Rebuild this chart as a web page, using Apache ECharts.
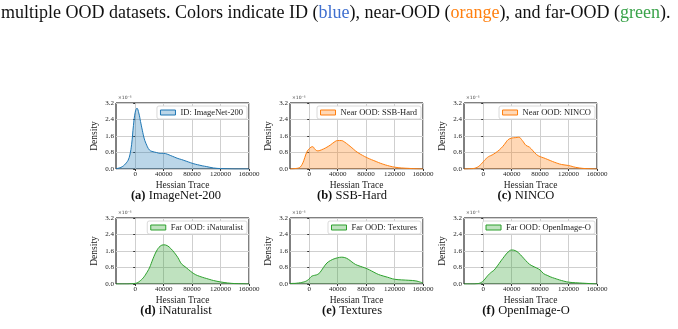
<!DOCTYPE html>
<html>
<head>
  <meta charset="UTF-8">
  <title>Hessian trace density</title>
  <script src="https://cdn.jsdelivr.net/npm/echarts@6/dist/echarts.min.js"></script>
  <style>
    html, body { margin: 0; padding: 0; background: #fff; }
    #chart { width: 678px; height: 329px; }
  </style>
</head>
<body>
<div id="chart"></div>
<script>
  // hessian trace grid (x) shared by every panel
  const traceX = [-27000, -22500, -20000, -17500, -15000, -12500, -10000, -7500, -5000, -2500,
    0, 2500, 5000, 7500, 10000, 12500, 15000, 20000, 25000, 30000, 35000, 40000, 45000, 50000,
    55000, 60000, 65000, 70000, 75000, 80000, 85000, 90000, 95000, 100000,
    110000, 120000, 130000, 140000, 150000, 160000];

  // density values, in units of 1e-5
  const imagenet200 = [0.01, 0.05, 0.08, 0.13, 0.2, 0.3, 0.42, 0.68, 1.2, 2.1,
    2.75, 2.95, 2.72, 2.3, 1.88, 1.5, 1.25, 0.92, 0.84, 0.8, 0.76, 0.76, 0.72, 0.65,
    0.58, 0.51, 0.46, 0.4, 0.34, 0.28, 0.23, 0.19, 0.15, 0.12,
    0.05, 0.02, 0.01, 0, 0, 0];
  const ssbHard = [0, 0.01, 0.02, 0.03, 0.05, 0.1, 0.22, 0.42, 0.68, 0.88,
    0.98, 1.06, 1.08, 0.98, 0.9, 0.88, 0.9, 0.97, 1.06, 1.17, 1.3, 1.38, 1.38, 1.3,
    1.17, 1.03, 0.88, 0.76, 0.66, 0.57, 0.49, 0.42, 0.35, 0.28,
    0.17, 0.09, 0.05, 0.03, 0.01, 0];
  const ninco = [0, 0, 0.01, 0.01, 0.02, 0.03, 0.06, 0.1, 0.17, 0.25,
    0.35, 0.45, 0.53, 0.6, 0.64, 0.68, 0.73, 0.85, 1.0, 1.2, 1.42, 1.5, 1.52, 1.54,
    1.38, 1.15, 1.06, 0.88, 0.7, 0.6, 0.54, 0.47, 0.4, 0.33,
    0.22, 0.17, 0.08, 0.03, 0.01, 0];
  const inaturalist = [0, 0, 0, 0, 0, 0, 0, 0.01, 0.01, 0.02,
    0.03, 0.05, 0.1, 0.17, 0.25, 0.35, 0.48, 0.78, 1.22, 1.6, 1.83, 1.9, 1.86, 1.72,
    1.52, 1.28, 0.98, 0.84, 0.7, 0.56, 0.45, 0.38, 0.32, 0.27,
    0.17, 0.1, 0.05, 0.02, 0.01, 0];
  const textures = [0.02, 0.03, 0.03, 0.04, 0.05, 0.06, 0.08, 0.1, 0.13, 0.18,
    0.25, 0.35, 0.4, 0.42, 0.44, 0.48, 0.55, 0.8, 1.02, 1.14, 1.22, 1.27, 1.3, 1.28,
    1.2, 1.07, 0.95, 0.88, 0.82, 0.76, 0.68, 0.59, 0.5, 0.43,
    0.33, 0.23, 0.2, 0.18, 0.15, 0.05];
  const openimageO = [0, 0, 0, 0, 0, 0, 0.01, 0.02, 0.04, 0.08,
    0.15, 0.24, 0.35, 0.45, 0.53, 0.6, 0.66, 0.88, 1.12, 1.35, 1.55, 1.65, 1.62, 1.5,
    1.32, 1.13, 0.96, 0.86, 0.78, 0.68, 0.5, 0.42, 0.34, 0.28,
    0.17, 0.09, 0.06, 0.04, 0.02, 0];

  const xTicks = [0, 40000, 80000, 120000, 160000];
  const legendNames = ['ID: ImageNet-200', 'Near OOD: SSB-Hard', 'Near OOD: NINCO',
    'Far OOD: iNaturalist', 'Far OOD: Textures', 'Far OOD: OpenImage-O'];
  const captionTags = ['(a)', '(b)', '(c)', '(d)', '(e)', '(f)'];
  const captionNames = ['ImageNet-200', 'SSB-Hard', 'NINCO', 'iNaturalist', 'Textures', 'OpenImage-O'];
  const allDensities = [imagenet200, ssbHard, ninco, inaturalist, textures, openimageO];

  const BLUE = '#1f77b4', ORANGE = '#ff7f0e', GREEN = '#2ca02c';
  const lineColors = [BLUE, ORANGE, ORANGE, GREEN, GREEN, GREEN];
  const fillColors = ['rgba(31,119,180,0.3)', 'rgba(255,127,14,0.3)', 'rgba(255,127,14,0.3)',
    'rgba(44,160,44,0.3)', 'rgba(44,160,44,0.3)', 'rgba(44,160,44,0.3)'];

  const SERIF = '"Liberation Serif", "DejaVu Serif", serif';
  const colLeft = [116, 290, 464];
  const rowTop = [103, 218];
  const plotW = 133, plotH = 66;
  const captionX = [176, 352, 526];
  const captionY = [196, 311];

  const grids = [], xAxes = [], yAxes = [], series = [], legends = [], graphics = [];

  for (let i = 0; i < 6; i++) {
    const col = i % 3, row = Math.floor(i / 3);
    const left = colLeft[col], top = rowTop[row];

    grids.push({
      left: left, top: top, width: plotW, height: plotH,
      show: true, borderColor: '#000', borderWidth: 1, backgroundColor: '#fff'
    });

    xAxes.push({
      type: 'value', gridIndex: i, min: -27000, max: 160000,
      name: 'Hessian Trace', nameLocation: 'middle', nameGap: 11,
      nameTextStyle: { fontFamily: SERIF, fontSize: 9.5, color: '#222' },
      axisLine: { show: false },
      axisTick: { show: true, length: 2, customValues: xTicks, lineStyle: { color: '#333' } },
      axisLabel: { customValues: xTicks, fontFamily: SERIF, fontSize: 7, color: '#222', margin: 2,
        formatter: v => String(v) },
      splitLine: { show: true, lineStyle: { color: '#cfcfcf', width: 1 } }
    });

    yAxes.push({
      type: 'value', gridIndex: i, min: 0, max: 3.2, interval: 0.8,
      name: 'Density', nameLocation: 'middle', nameGap: 17, nameRotate: 90,
      nameTextStyle: { fontFamily: SERIF, fontSize: 9.5, color: '#222' },
      axisLine: { show: false },
      axisTick: { show: true, length: 2, lineStyle: { color: '#333' } },
      axisLabel: { fontFamily: SERIF, fontSize: 7, color: '#222', margin: 2,
        formatter: v => v.toFixed(1) },
      splitLine: { show: true, lineStyle: { color: '#cfcfcf', width: 1 } }
    });

    series.push({
      name: legendNames[i], type: 'line', xAxisIndex: i, yAxisIndex: i,
      data: traceX.map((x, j) => [x, allDensities[i][j]]),
      smooth: 0.4, showSymbol: false, silent: true,
      lineStyle: { color: lineColors[i], width: 1 },
      itemStyle: { color: fillColors[i], borderColor: lineColors[i], borderWidth: 1 },
      areaStyle: { color: fillColors[i], opacity: 1 }
    });

    legends.push({
      data: [legendNames[i]],
      right: 678 - (left + plotW) + 2, top: top + 3,
      icon: 'rect', itemWidth: 15, itemHeight: 5, itemGap: 4,
      backgroundColor: '#fff', borderColor: '#d0d0d0', borderWidth: 0.8, borderRadius: 2,
      padding: [2, 4, 2, 3],
      selectedMode: false,
      itemStyle: { color: fillColors[i], borderColor: lineColors[i], borderWidth: 1 },
      lineStyle: { width: 0 },
      textStyle: { fontFamily: SERIF, fontSize: 8.5, color: '#222' }
    });

    // matplotlib offset text above the y axis
    graphics.push({
      type: 'text', x: left + 2, y: top - 5,
      style: { text: '×10⁻⁵', font: '4.5px "DejaVu Sans"', fill: '#444',
        align: 'left', verticalAlign: 'middle' }
    });

    graphics.push({
      type: 'text', x: captionX[col], y: captionY[row],
      style: {
        text: '{t|' + captionTags[i] + '} {n|' + captionNames[i] + '}',
        align: 'center', verticalAlign: 'middle',
        rich: {
          t: { fontFamily: SERIF, fontSize: 12.5, fontWeight: 'bold', fill: '#111' },
          n: { fontFamily: SERIF, fontSize: 12.5, fill: '#111' }
        }
      }
    });
  }

  // caption line cut from the paper above the figure
  graphics.push({
    type: 'text', x: 1, y: 13,
    style: {
      text: '{k|multiple OOD datasets. Colors indicate ID (}{b|blue}{k|), near-OOD (}{o|orange}{k|), and far-OOD (}{g|green}{k|).}',
      align: 'left', verticalAlign: 'middle',
      rich: {
        k: { fontFamily: SERIF, fontSize: 18, fill: '#111' },
        b: { fontFamily: SERIF, fontSize: 18, fill: '#3f6fcf' },
        o: { fontFamily: SERIF, fontSize: 18, fill: '#ff7f0e' },
        g: { fontFamily: SERIF, fontSize: 18, fill: '#3aa34a' }
      }
    }
  });

  const chart = echarts.init(document.getElementById('chart'), null, { renderer: 'canvas' });
  chart.setOption({
    animation: false,
    backgroundColor: '#fff',
    grid: grids,
    xAxis: xAxes,
    yAxis: yAxes,
    legend: legends,
    series: series,
    graphic: graphics
  });
</script>
</body>
</html>
